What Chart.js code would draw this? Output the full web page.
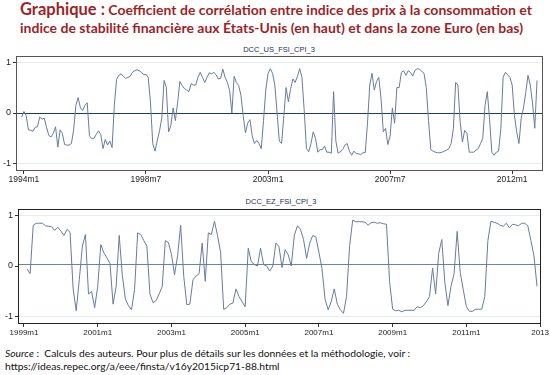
<!DOCTYPE html>
<html>
<head>
<meta charset="utf-8">
<script src="https://cdn.jsdelivr.net/npm/chart.js@4.4.1/dist/chart.umd.min.js"></script>
<style>
  html, body { margin: 0; padding: 0; background: #fff; }
  #wrap { position: relative; width: 550px; height: 375px; overflow: hidden; background: #fff; }
  .title { position: absolute; left: 20px; font-family: Lato, "Open Sans", sans-serif; font-weight: bold; color: #9e1f27; white-space: nowrap; }
  #t1 { top: -1px; font-size: 14px; }
  #t1 .big { font-size: 16.5px; }
  #t2 { top: 19px; font-size: 14px; }
  .ptitle { position: absolute; width: 526px; text-align: center; font-family: "Liberation Sans", Arial, sans-serif; font-size: 7.5px; color: #2b2b55; }
  #p1 { left: 16px; top: 45px; }
  #p2 { left: 18px; top: 197px; }
  canvas { position: absolute; left: 0; }
  #c1 { top: 40px; }
  #c2 { top: 195px; }
  .src { position: absolute; left: 5px; font-family: Lato, "Open Sans", sans-serif; font-size: 10.3px; color: #111; white-space: nowrap; }
  #s1 { top: 347px; }
  #s2 { top: 360px; }
</style>
</head>
<body>
<div id="wrap">
  <div class="title" id="t1"><span class="big">Graphique :</span> Coefficient de corrélation entre indice des prix à la consommation et</div>
  <div class="title" id="t2">indice de stabilité financière aux États-Unis (en haut) et dans la zone Euro (en bas)</div>
  <div class="ptitle" id="p1">DCC_US_FSI_CPI_3</div>
  <div class="ptitle" id="p2">DCC_EZ_FSI_CPI_3</div>
  <canvas id="c1" width="550" height="155"></canvas>
  <canvas id="c2" width="550" height="150"></canvas>
  <div class="src" id="s1"><i>Source</i> :&nbsp; Calculs des auteurs. Pour plus de détails sur les données et la méthodologie, voir :</div>
  <div class="src" id="s2">https://ideas.repec.org/a/eee/finsta/v16y2015icp71-88.html</div>
</div>
<script>
// ---- Data (monthly). Month index 0 = 1994m1 for US, 0 = 1999m1 for EZ ----
const usStartMonth = -1; // 1993m12
const usValues = [
  -0.08, 0.03, -0.05, -0.33, -0.34, -0.36, -0.28, -0.27, -0.08, -0.12,
  -0.10, -0.28, -0.44, -0.47, -0.40, -0.27, -0.67, -0.33, -0.40, -0.62,
  -0.63, -0.63, -0.60, -0.33, 0.15, 0.30, 0.10, 0.05, 0.15, 0.20,
  -0.45, -0.50, -0.50, -0.42, -0.35, -0.42, -0.70, -0.52, -0.63, -0.55,
  -0.68, 0.15, 0.66, 0.74, 0.77, 0.72, 0.68, 0.70, 0.72, 0.80,
  0.83, 0.85, 0.83, 0.80, 0.75, 0.76, 0.70, 0.20, -0.60, -0.75,
  -0.54, -0.35, -0.10, 0.64, 0.50, -0.37, -0.25, 0.10, -0.15, 0.20,
  0.62, 0.54, 0.48, 0.45, 0.42, 0.58, 0.55, 0.55, 0.70, 0.80,
  0.70, 0.60, 0.70, 0.79, 0.77, 0.80, 0.75, 0.67, 0.68, 0.86,
  0.70, 0.60, 0.44, 0.00, 0.72, 0.60, 0.54, 0.35, -0.05, -0.39,
  -0.20, -0.13, -0.45, -0.60, -0.54, -0.60, -0.70, -0.15, 0.45, 0.78,
  0.87, 0.78, 0.55, 0.00, -0.55, -0.60, -0.05, 0.50, 0.22, 0.48,
  0.67, 0.60, 0.72, 0.87, 0.70, 0.05, -0.70, -0.76, -0.60, -0.37,
  -0.50, -0.77, -0.72, -0.72, -0.65, -0.77, -0.77, -0.79, 0.42, -0.55,
  -0.79, -0.76, -0.72, -0.63, -0.60, -0.75, -0.83, -0.75, -0.80, -0.80,
  -0.82, -0.78, -0.78, -0.20, 0.55, 0.78, 0.45, 0.62, 0.70, 0.28,
  -0.37, -0.30, -0.62, -0.45, 0.10, -0.20, 0.50, 0.50, 0.80, 0.83,
  0.74, 0.83, 0.80, 0.73, 0.84, 0.87, 0.86, 0.82, 0.78, 0.50,
  -0.15, -0.72, -0.75, -0.77, -0.78, -0.78, -0.77, -0.75, -0.73, -0.70,
  -0.60, -0.30, 0.60, 0.55, -0.18, -0.57, -0.34, -0.40, -0.77, -0.77,
  -0.77, -0.73, -0.70, -0.60, -0.50, 0.15, 0.42, -0.12, -0.77, -0.83,
  -0.77, -0.75, -0.30, 0.70, 0.80, 0.75, 0.70, 0.55, -0.05, -0.37,
  -0.60, -0.10, 0.10, 0.40, 0.74, 0.55, 0.20, -0.30, 0.64
];
const usTickMonths = [0, 54, 108, 162, 216];
const usTickLabels = ['1994m1', '1998m7', '2003m1', '2007m7', '2012m1'];

const ezStartMonth = 1; // 1999m2
const ezValues = [
  -0.06, -0.15, 0.80, 0.84, 0.84, 0.84, 0.79, 0.78, 0.77, 0.70,
  0.76, 0.69, 0.60, 0.72, 0.66, -0.45, -0.88, -0.27, 0.39, 0.62,
  -0.55, -0.50, -0.82, -0.40, 0.42, 0.26, 0.16, 0.05, -0.75, -0.40,
  0.60, -0.18, -0.65, -0.78, -0.86, -0.46, 0.65, 0.62, 0.50, 0.39,
  -0.55, -0.72, -0.68, -0.55, -0.40, 0.50, 0.46, 0.23, -0.17, 0.20,
  0.80, -0.20, -0.76, -0.75, -0.27, -0.20, -0.15, 0.45, -0.30, 0.65,
  0.62, 0.88, 0.60, 0.27, -0.85, -0.82, -0.75, -0.73, -0.45, -0.60,
  -0.70, -0.80, 0.35, 0.08, 0.03, 0.00, 0.35, 0.03, 0.00, -0.10,
  0.00, 0.45, 0.38, -0.03, 0.32, 0.22, 0.00, 0.60, 0.79, 0.72,
  0.52, 0.15, 0.45, 0.60, 0.57, 0.27, -0.05, -0.65, -0.86, -0.70,
  -0.45, -0.75, -0.86, -0.93, -0.60, 0.40, 0.90, 0.87, 0.87, 0.87,
  0.86, 0.80, 0.85, 0.86, 0.84, 0.85, 0.83, 0.82, -0.30, -0.85,
  -0.88, -0.87, -0.90, -0.87, -0.87, -0.87, -0.87, -0.80, -0.82, -0.78,
  -0.70, -0.60, -0.04, -0.55, 0.25, 0.52, -0.33, -0.78, -0.40, -0.15,
  0.68, -0.13, -0.47, -0.80, -0.89, -0.89, -0.85, -0.85, -0.85, -0.60,
  0.50, 0.88, 0.86, 0.84, 0.80, 0.78, 0.84, 0.75, 0.82, 0.81,
  0.79, 0.84, 0.84, 0.79, 0.50, 0.20, -0.40
];
const ezTickMonths = [0, 24, 48, 72, 96, 120, 144, 168];
const ezTickLabels = ['1999m1', '2001m1', '2003m1', '2005m1', '2007m1', '2009m1', '2011m1', '2013'];

const yTicks = [-1, 0, 1];

// ---- Plugin: reference line + frame ----
const framePlugin = {
  id: 'frame',
  beforeDatasetsDraw(chart, args, opts) {
    const { ctx, chartArea: a, scales: { y } } = chart;
    const py = Math.round(y.getPixelForValue(opts.ref)) + 0.5;
    ctx.save();
    ctx.strokeStyle = opts.refColor;
    ctx.lineWidth = opts.refWidth;
    ctx.beginPath();
    ctx.moveTo(a.left, py);
    ctx.lineTo(a.right, py);
    ctx.stroke();
    ctx.restore();
  },
  afterDraw(chart, args, opts) {
    const { ctx, chartArea: a } = chart;
    ctx.save();
    ctx.strokeStyle = opts.frameColor;
    ctx.lineWidth = 1;
    ctx.strokeRect(Math.round(a.left) + 0.5, Math.round(a.top) + 0.5,
                   Math.round(a.right) - Math.round(a.left), Math.round(a.bottom) - Math.round(a.top));
    ctx.restore();
  }
};

function makeChart(id, startMonth, values, tickMonths, tickLabels, cfg) {
  const data = values.map((v, i) => ({ x: startMonth + i, y: v }));
  return new Chart(document.getElementById(id), {
    type: 'line',
    data: { datasets: [{ data, borderColor: '#687b9f', borderWidth: 1, pointRadius: 0, tension: 0, fill: false }] },
    plugins: [framePlugin],
    options: {
      responsive: false,
      animation: false,
      events: [],
      layout: { padding: cfg.padding },
      plugins: {
        legend: { display: false },
        tooltip: { enabled: false },
        frame: { ref: cfg.ref, refColor: cfg.refColor, refWidth: cfg.refWidth, frameColor: cfg.frameColor }
      },
      scales: {
        x: {
          type: 'linear',
          min: cfg.xmin, max: cfg.xmax,
          afterFit: (s) => { s.height = cfg.xh; },
          afterBuildTicks: (s) => { s.ticks = tickMonths.map(v => ({ value: v })); },
          border: { display: false },
          grid: { display: true, drawOnChartArea: false, drawTicks: true, tickLength: 4, tickColor: '#333' },
          ticks: {
            autoSkip: false, maxRotation: 0, padding: 1,
            color: '#222', font: { family: 'Liberation Sans', size: cfg.xfs },
            callback: (v) => { const k = tickMonths.indexOf(v); return k >= 0 ? tickLabels[k] : ''; }
          }
        },
        y: {
          type: 'linear',
          min: -1.12, max: 1.12,
          afterFit: (s) => { s.width = cfg.yw; },
          afterBuildTicks: (s) => { s.ticks = yTicks.map(v => ({ value: v })); },
          border: { display: false },
          grid: {
            drawOnChartArea: true, drawTicks: true, tickLength: 3, tickColor: '#333',
            color: (c) => (c.tick && c.tick.value === 0) ? 'rgba(0,0,0,0)' : '#e4eef0'
          },
          ticks: {
            padding: 2, color: '#222', font: { family: 'Liberation Sans', size: 9 },
            callback: (v) => String(v)
          }
        }
      }
    }
  });
}

makeChart('c1', usStartMonth, usValues, usTickMonths, usTickLabels, {
  padding: { left: 0, right: 8, top: 16, bottom: 0 },
  xmin: -3.5, xmax: 229.2, xh: 25, yw: 16, xfs: 8.5,
  ref: 0, refColor: '#1c3d5e', refWidth: 1.2, frameColor: '#555'
});
makeChart('c2', ezStartMonth, ezValues, ezTickMonths, ezTickLabels, {
  padding: { left: 0, right: 9, top: 14, bottom: 0 },
  xmin: -1.95, xmax: 168, xh: 22, yw: 18, xfs: 8,
  ref: 0.03, refColor: '#7082a3', refWidth: 1, frameColor: '#222'
});
</script>
</body>
</html>
